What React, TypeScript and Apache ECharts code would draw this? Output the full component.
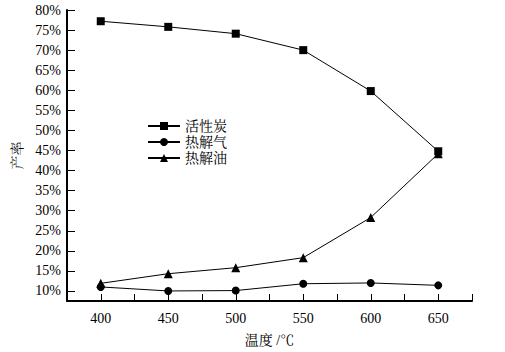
import React, { useEffect, useRef } from "react";
import * as echarts from "echarts";

const temperatures = [400, 450, 500, 550, 600, 650];
const charcoal = [77.2, 75.8, 74.1, 70.0, 59.8, 44.8];
const pyroGas = [11.0, 10.0, 10.1, 11.8, 12.0, 11.4];
const pyroOil = [11.9, 14.3, 15.8, 18.3, 28.3, 44.2];
const seriesNames = ["活性炭", "热解气", "热解油"];
const yTicks = [10, 15, 20, 25, 30, 35, 40, 45, 50, 55, 60, 65, 70, 75, 80];
const xLabels = [400, 450, 500, 550, 600, 650];

const FONT = "'Liberation Serif', 'Times New Roman', 'Noto Serif CJK SC', 'Noto Sans CJK SC', serif";

export default function App() {
  const ref = useRef<HTMLDivElement>(null);
  useEffect(() => {
    if (!ref.current) return;
    const chart = echarts.init(ref.current, null, { renderer: "svg" });
    const mk = (d: number[]) => temperatures.map((t, i) => [t, d[i]]);
    const lineStyle = { color: "#000", width: 1 };
    chart.setOption({
      animation: false,
      backgroundColor: "#fff",
      textStyle: { fontFamily: FONT, color: "#000" },
      grid: { left: 67, right: 33, top: 10, bottom: 44 },
      legend: {
        orient: "vertical",
        left: 142,
        top: 114,
        itemWidth: 32,
        itemHeight: 10,
        itemGap: 2,
        data: seriesNames,
        textStyle: { fontFamily: FONT, fontSize: 14, lineHeight: 14, color: "#000" },
      },
      xAxis: {
        type: "value",
        min: 375,
        max: 675,
        interval: 25,
        name: "温度 /℃",
        nameLocation: "middle",
        nameGap: 32,
        nameTextStyle: { fontFamily: FONT, fontSize: 14, color: "#000" },
        splitLine: { show: false },
        axisLine: { lineStyle: { color: "#000", width: 2 } },
        axisTick: { inside: true, length: 7, lineStyle: { color: "#000", width: 1 } },
        axisLabel: {
          customValues: xLabels,
          fontSize: 14,
          color: "#000",
          fontFamily: FONT,
          margin: 10,
        },
      },
      yAxis: {
        type: "value",
        min: 7.5,
        max: 80,
        name: "产率",
        nameLocation: "middle",
        nameGap: 37,
        nameTextStyle: { fontFamily: FONT, fontSize: 14, color: "#000" },
        splitLine: { show: false },
        axisLine: { lineStyle: { color: "#000", width: 2 } },
        axisTick: { inside: true, length: 8, customValues: yTicks, lineStyle: { color: "#000", width: 1 } },
        axisLabel: {
          customValues: yTicks,
          formatter: "{value}%",
          fontSize: 14,
          color: "#000",
          fontFamily: FONT,
          margin: 6,
        },
      },
      series: [
        {
          name: seriesNames[0],
          type: "line",
          data: mk(charcoal),
          symbol: "rect",
          symbolSize: 8,
          itemStyle: { color: "#000" },
          lineStyle,
        },
        {
          name: seriesNames[1],
          type: "line",
          data: mk(pyroGas),
          symbol: "circle",
          symbolSize: 8,
          itemStyle: { color: "#000" },
          lineStyle,
        },
        {
          name: seriesNames[2],
          type: "line",
          data: mk(pyroOil),
          symbol: "triangle",
          symbolSize: 9,
          itemStyle: { color: "#000" },
          lineStyle,
        },
      ],
    });
    return () => chart.dispose();
  }, []);
  return (
    <div
      ref={ref}
      style={{ position: "fixed", left: 0, top: 0, width: 505, height: 352 }}
    />
  );
}
